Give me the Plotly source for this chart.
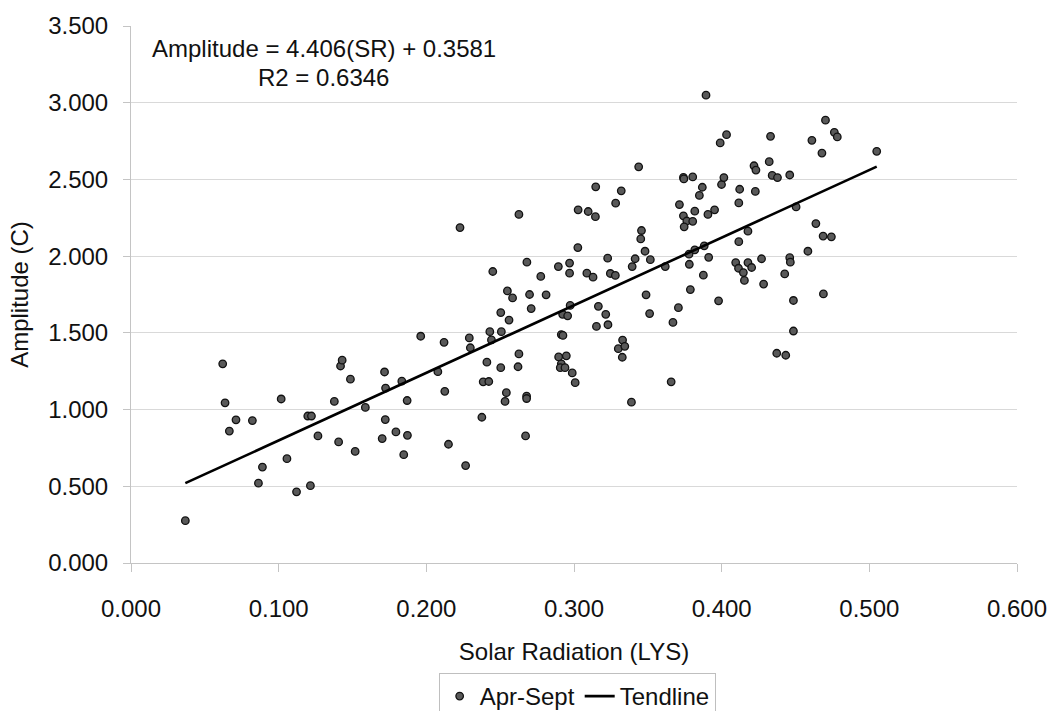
import plotly.graph_objects as go

# Solar radiation (LYS) values, Apr-Sept
solar_rad = [
    0.0621, 0.0637, 0.0711, 0.0666, 0.0822, 0.1017, 0.0890, 0.0863, 0.1056, 0.1121,
    0.1215, 0.1197, 0.1222, 0.1266, 0.1377, 0.1419, 0.1430, 0.1486, 0.1406, 0.1518,
    0.1587, 0.1717, 0.1724, 0.1722, 0.1701, 0.1794, 0.0368,
    0.2504, 0.2710, 0.2560, 0.2923, 0.2957, 0.2974, 0.3165, 0.3215, 0.3152, 0.3230,
    0.3512, 0.3670, 0.1962, 0.2120, 0.2291, 0.2298, 0.2430, 0.2441, 0.2508, 0.2914,
    0.2925, 0.1834, 0.1870, 0.2078, 0.2125, 0.2410, 0.2385, 0.2423, 0.2504, 0.2627,
    0.2621, 0.2542, 0.2533, 0.2679, 0.2679, 0.2896, 0.2948, 0.2914, 0.2907, 0.2939,
    0.2988, 0.3008, 0.3329, 0.3300, 0.3344, 0.3327, 0.3389, 0.3658, 0.1872, 0.1847,
    0.2150, 0.2266, 0.2376, 0.2672,
    0.3707, 0.4486, 0.4373, 0.4434,
    0.2228, 0.2627, 0.3028, 0.3096, 0.3145, 0.3147, 0.3282, 0.3320, 0.3438, 0.3457,
    0.3452, 0.3481, 0.3026, 0.2681, 0.2450, 0.2775, 0.2894, 0.2970, 0.2970, 0.3087,
    0.3129, 0.3228, 0.3246, 0.3280, 0.3414, 0.3394, 0.3517, 0.3618, 0.2549, 0.2584,
    0.2699, 0.2811, 0.3488,
    0.3894, 0.4703, 0.4763, 0.4783, 0.4611, 0.4679, 0.5050, 0.4331, 0.4033, 0.3990,
    0.3741, 0.3744, 0.3804, 0.3869, 0.3849, 0.3714, 0.3741, 0.3764, 0.3804, 0.3746,
    0.3818, 0.3907, 0.3952, 0.3999, 0.4015, 0.4122, 0.4116, 0.4219, 0.4232, 0.4322,
    0.4228, 0.4342, 0.4378, 0.4461, 0.4504, 0.4178, 0.4116, 0.4638, 0.4687, 0.4743,
    0.4584, 0.3779, 0.3818, 0.3781, 0.3882, 0.3912, 0.3876, 0.3788, 0.4095, 0.4114,
    0.4147, 0.4154, 0.4178, 0.4203, 0.4270, 0.4284, 0.4461, 0.4465, 0.4427, 0.4486,
    0.3979, 0.4689,
]

# Amplitude (C) values, Apr-Sept
amplitude = [
    1.298, 1.044, 0.933, 0.860, 0.928, 1.069, 0.625, 0.520, 0.680, 0.464,
    0.504, 0.958, 0.958, 0.828, 1.053, 1.284, 1.322, 1.198, 0.789, 0.727,
    1.014, 1.245, 1.140, 0.935, 0.811, 0.854, 0.276,
    1.632, 1.658, 1.583, 1.621, 1.611, 1.679, 1.673, 1.621, 1.542, 1.553,
    1.626, 1.568, 1.478, 1.438, 1.467, 1.403, 1.508, 1.454, 1.508, 1.489,
    1.483, 1.185, 1.059, 1.247, 1.119, 1.309, 1.181, 1.183, 1.273, 1.363,
    1.279, 1.110, 1.053, 1.087, 1.072, 1.343, 1.350, 1.298, 1.273, 1.273,
    1.239, 1.175, 1.453, 1.397, 1.412, 1.341, 1.048, 1.181, 0.832, 0.706,
    0.774, 0.635, 0.950, 0.828,
    1.664, 1.512, 1.367, 1.354,
    2.186, 2.272, 2.302, 2.291, 2.257, 2.452, 2.345, 2.426, 2.582, 2.167,
    2.112, 2.032, 2.056, 1.961, 1.900, 1.868, 1.932, 1.955, 1.889, 1.889,
    1.863, 1.987, 1.887, 1.874, 1.983, 1.932, 1.977, 1.932, 1.773, 1.728,
    1.750, 1.748, 1.748,
    3.049, 2.886, 2.807, 2.777, 2.755, 2.672, 2.683, 2.781, 2.792, 2.738,
    2.513, 2.503, 2.516, 2.449, 2.396, 2.336, 2.263, 2.229, 2.227, 2.191,
    2.293, 2.272, 2.302, 2.467, 2.512, 2.436, 2.347, 2.589, 2.561, 2.616,
    2.422, 2.526, 2.512, 2.529, 2.321, 2.163, 2.094, 2.212, 2.131, 2.126,
    2.032, 2.013, 2.041, 1.947, 2.067, 1.992, 1.876, 1.782, 1.958, 1.921,
    1.893, 1.842, 1.958, 1.926, 1.983, 1.818, 1.990, 1.961, 1.884, 1.711,
    1.709, 1.754,
]

# Trendline coefficients (from the chart's equation)
slope = 4.406
intercept = 0.3581

x_ticks = [0.0, 0.1, 0.2, 0.3, 0.4, 0.5, 0.6]
y_ticks = [0.0, 0.5, 1.0, 1.5, 2.0, 2.5, 3.0, 3.5]

trend_x = [min(solar_rad), max(solar_rad)]
trend_y = [slope * v + intercept for v in trend_x]

FONT = "Liberation Sans, Arial, sans-serif"
GRID = "#d9d9d9"
AXIS = "#c4c4c4"

fig = go.Figure()
fig.add_trace(go.Scatter(
    x=solar_rad, y=amplitude, mode="markers", name="Apr-Sept",
    marker=dict(symbol="circle", size=7.5, color="#595959",
                line=dict(color="#111111", width=1.3)),
))
fig.add_trace(go.Scatter(
    x=trend_x, y=trend_y, mode="lines", name="Tendline",
    line=dict(color="#000000", width=2.6),
))

fig.add_annotation(x=0.1305, y=3.352, xref="x", yref="y",
                   text="Amplitude = 4.406(SR) + 0.3581", showarrow=False,
                   xanchor="center", yanchor="middle",
                   font=dict(family=FONT, size=24, color="#111111"))
fig.add_annotation(x=0.1305, y=3.166, xref="x", yref="y",
                   text="R2 = 0.6346", showarrow=False,
                   xanchor="center", yanchor="middle",
                   font=dict(family=FONT, size=24, color="#111111"))

fig.update_layout(
    width=1059, height=711,
    margin=dict(l=131, r=36, t=17.5, b=147.7, pad=0),
    paper_bgcolor="white", plot_bgcolor="white",
    font=dict(family=FONT, size=24, color="#111111"),
    showlegend=True,
    legend=dict(
        orientation="h", xref="container", yref="container",
        x=0.545, xanchor="center", y=1 - 673 / 711, yanchor="top",
        bordercolor="#bfbfbf", borderwidth=1, bgcolor="white",
        font=dict(family=FONT, size=24, color="#111111"),
        itemwidth=30, tracegroupgap=0,
    ),
)

fig.update_xaxes(
    range=[0, 0.6], tickvals=x_ticks, tickformat=".3f",
    showgrid=False, zeroline=False,
    showline=True, linecolor=AXIS, linewidth=1,
    ticks="outside", ticklen=8, tickcolor=AXIS, tickwidth=1,
    ticklabelstandoff=16,
    title=dict(text="Solar Radiation (LYS)", standoff=22,
               font=dict(family=FONT, size=24, color="#111111")),
    tickfont=dict(family=FONT, size=24, color="#111111"),
)
fig.update_yaxes(
    range=[0, 3.5], tickvals=y_ticks, tickformat=".3f",
    showgrid=True, gridcolor=GRID, gridwidth=1.2, zeroline=False,
    showline=True, linecolor=AXIS, linewidth=1,
    ticks="outside", ticklen=7, tickcolor=AXIS, tickwidth=1,
    ticklabelstandoff=10,
    title=dict(text="Amplitude (C)", standoff=12,
               font=dict(family=FONT, size=24, color="#111111")),
    tickfont=dict(family=FONT, size=24, color="#111111"),
)

fig.write_html("out.html")
